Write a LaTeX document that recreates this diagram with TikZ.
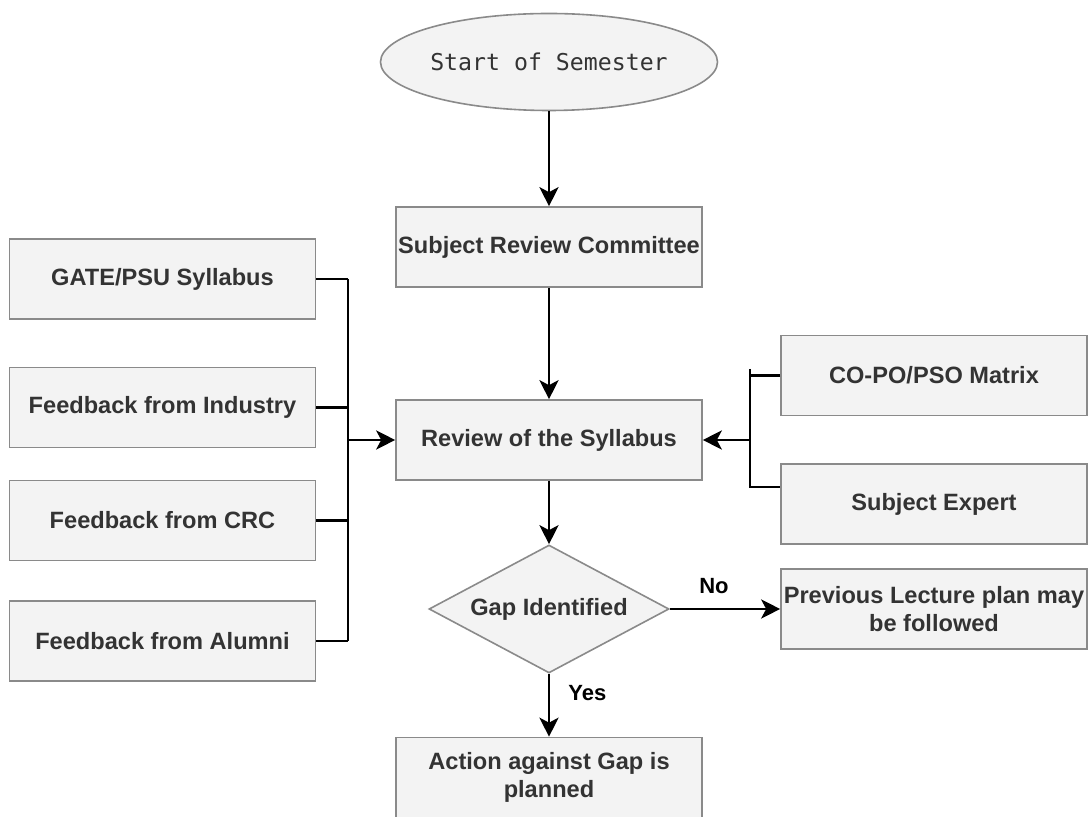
\documentclass[tikz,border=0pt]{standalone}
\usepackage{fontspec}
\setmainfont{Liberation Sans}
\newfontfamily\semfont{DejaVu Sans Mono}
\usetikzlibrary{shapes.geometric,arrows.meta}

\definecolor{boxfill}{HTML}{F3F3F3}
\definecolor{boxline}{HTML}{8A8A8A}
\definecolor{boxtext}{HTML}{333333}

\tikzset{
  box/.style={draw=boxline, fill=boxfill, line width=0.8pt, minimum width=153pt,
    minimum height=40pt, inner sep=0pt, align=center, text=boxtext,
    font=\fontsize{11.8}{14}\selectfont\bfseries},
  startnode/.style={ellipse, draw=boxline, fill=boxfill, line width=0.8pt,
    minimum width=168.5pt, minimum height=48.5pt, inner sep=0pt, text=boxtext,
    font=\fontsize{11.6}{14}\selectfont\semfont},
  decision/.style={diamond, aspect=1.875, draw=boxline, fill=boxfill, line width=0.8pt,
    minimum width=120pt, minimum height=64pt, inner sep=0pt, text=boxtext,
    font=\fontsize{11.8}{14}\selectfont\bfseries},
  flow/.style={line width=1.4pt, black},
  lbl/.style={font=\fontsize{11}{13}\selectfont\bfseries, inner sep=0pt}
}

\begin{document}
\begin{tikzpicture}[x=0.5pt, y=-0.5pt, >={Stealth[length=9.5pt,width=9.5pt,inset=2.5pt]}]
\useasboundingbox (0,0) rectangle (1088,817);

% middle column
\node[startnode] (start) at (549,62) {Start of Semester};
\node[box] (src) at (549,247) {Subject Review Committee};
\node[box] (review) at (549,440) {Review of the Syllabus};
\node[decision] (gap) at (549,609) {Gap Identified};
\node[box] (action) at (549,777.5) {Action against Gap is\\planned};

% inputs on the left
\node[box] (gate) at (162.5,279) {GATE/PSU Syllabus};
\node[box] (industry) at (162.5,407.5) {Feedback from Industry};
\node[box] (crc) at (162.5,520.5) {Feedback from CRC};
\node[box] (alumni) at (162.5,641) {Feedback from Alumni};

% right column
\node[box] (copo) at (934,375.5) {CO-PO/PSO Matrix};
\node[box] (expert) at (934,504) {Subject Expert};
\node[box] (prev) at (934,609) {Previous Lecture plan may\\be followed};

\draw[flow,->] (start) -- (src);
\draw[flow,->] (src) -- (review);
\draw[flow,->] (review) -- (gap);
\draw[flow,->] (gap) -- node[lbl, pos=0.3, right=9pt] (yes) {Yes} (action);
\draw[flow,->] (gap.east) -- node[lbl, pos=0.4, above=7pt] (no) {No} (prev.west);

% left bus
\coordinate (bustop) at (348,279);
\coordinate (busbot) at (348,641);
\draw[flow] (bustop) -- (busbot);
\foreach \src in {gate,industry,crc,alumni}
  \draw[flow] (\src.east) -- (\src.east -| bustop);
\draw[flow,->] (bustop |- review) -- (review.west);

% right bracket
\coordinate (brtop) at (750,369);
\coordinate (brbot) at (750,487);
\draw[flow] (brtop) -- (brbot) -- (brbot -| expert.west);
\draw[flow] (copo.west) -- (copo.west -| brtop);
\draw[flow,->] (brtop |- review) -- (review.east);

\end{tikzpicture}
\end{document}
